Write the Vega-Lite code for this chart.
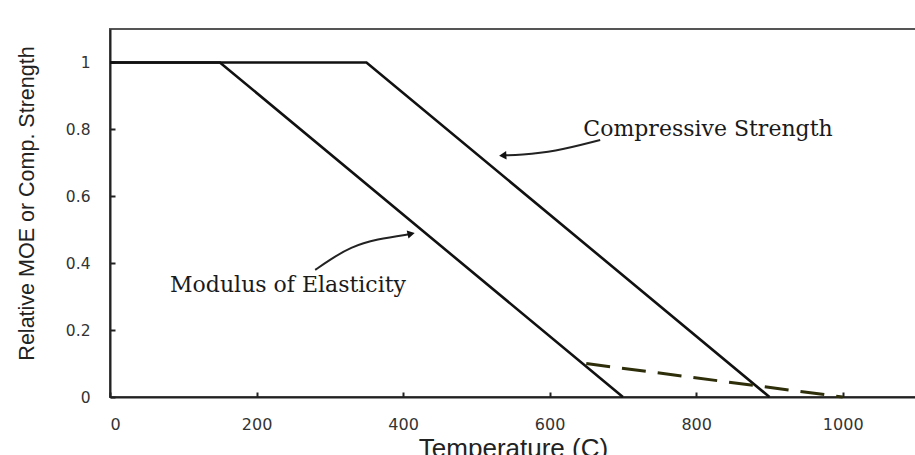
{
  "$schema": "https://vega.github.io/schema/vega-lite/v6.json",
  "width": 806,
  "height": 368,
  "autosize": {"type": "none"},
  "padding": {"left": 110, "top": 29, "right": 0, "bottom": 58},
  "background": "white",
  "config": {
    "view": {"stroke": "#555", "strokeWidth": 2},
    "axis": {"grid": false}
  },
  "datasets": {
    "curves": [
      {"series": "Modulus of Elasticity", "temp": 0, "rel": 1},
      {"series": "Modulus of Elasticity", "temp": 150, "rel": 1},
      {"series": "Modulus of Elasticity", "temp": 700, "rel": 0},
      {"series": "Compressive Strength", "temp": 0, "rel": 1},
      {"series": "Compressive Strength", "temp": 350, "rel": 1},
      {"series": "Compressive Strength", "temp": 900, "rel": 0}
    ],
    "tail": [
      {"temp": 650, "rel": 0.1},
      {"temp": 1000, "rel": 0}
    ],
    "arrows": [
      {"arrow": "cs", "order": 1, "temp": 669, "rel": 0.768},
      {"arrow": "cs", "order": 2, "temp": 605, "rel": 0.732},
      {"arrow": "cs", "order": 3, "temp": 560, "rel": 0.724},
      {"arrow": "cs", "order": 4, "temp": 536, "rel": 0.722},
      {"arrow": "moe", "order": 1, "temp": 280, "rel": 0.38},
      {"arrow": "moe", "order": 2, "temp": 300, "rel": 0.41},
      {"arrow": "moe", "order": 3, "temp": 328, "rel": 0.448},
      {"arrow": "moe", "order": 4, "temp": 364, "rel": 0.472},
      {"arrow": "moe", "order": 5, "temp": 410, "rel": 0.487}
    ],
    "heads": [
      {"arrow": "cs", "temp": 536, "rel": 0.722},
      {"arrow": "moe", "temp": 411, "rel": 0.488}
    ],
    "labels": [
      {"label": "Compressive Strength", "temp": 646, "rel": 0.78},
      {"label": "Modulus of Elasticity", "temp": 82, "rel": 0.314}
    ]
  },
  "encoding": {
    "x": {
      "field": "temp",
      "type": "quantitative",
      "scale": {"domain": [0, 1100], "nice": false, "zero": false},
      "axis": {
        "title": "Temperature (C)",
        "values": [0, 200, 400, 600, 800, 1000],
        "format": "d",
        "domainColor": "#222",
        "domainWidth": 2,
        "tickColor": "#222",
        "tickWidth": 2,
        "tickSize": -5,
        "labelPadding": 24,
        "labelFont": "DejaVu Sans",
        "labelFontSize": 16,
        "labelColor": "#333",
        "titleFont": "Liberation Sans",
        "titleFontSize": 26,
        "titleFontWeight": "normal",
        "titleColor": "#222",
        "titleBaseline": "alphabetic",
        "titleY": 59
      }
    },
    "y": {
      "field": "rel",
      "type": "quantitative",
      "scale": {"domain": [0, 1.1], "nice": false},
      "axis": {
        "title": "Relative MOE or Comp. Strength",
        "values": [0, 0.2, 0.4, 0.6, 0.8, 1],
        "format": "~g",
        "domainColor": "#222",
        "domainWidth": 2,
        "tickColor": "#222",
        "tickWidth": 2,
        "tickSize": -5,
        "labelPadding": 25,
        "labelFont": "DejaVu Sans",
        "labelFontSize": 15.5,
        "labelColor": "#333",
        "titleFont": "Liberation Sans",
        "titleFontSize": 21.5,
        "titleFontWeight": "normal",
        "titleColor": "#222",
        "titleX": -72,
        "titleY": 174
      }
    }
  },
  "layer": [
    {
      "data": {"name": "curves"},
      "mark": {"type": "line", "color": "#111", "strokeWidth": 2.6},
      "encoding": {"detail": {"field": "series"}}
    },
    {
      "data": {"name": "tail"},
      "mark": {"type": "line", "color": "#2e2e0a", "strokeWidth": 3, "strokeDash": [24, 12]},
      "encoding": {}
    },
    {
      "data": {"name": "arrows"},
      "mark": {"type": "line", "color": "#222", "strokeWidth": 2, "interpolate": "basis"},
      "encoding": {"detail": {"field": "arrow"}, "order": {"field": "order", "type": "quantitative"}}
    },
    {
      "data": {"name": "heads"},
      "transform": [{"filter": "datum.arrow == 'cs'"}],
      "mark": {"type": "point", "shape": "triangle-left", "filled": true, "color": "#111", "size": 70, "opacity": 1, "angle": 357}
    },
    {
      "data": {"name": "heads"},
      "transform": [{"filter": "datum.arrow == 'moe'"}],
      "mark": {"type": "point", "shape": "triangle-right", "filled": true, "color": "#111", "size": 70, "opacity": 1, "angle": 348}
    },
    {
      "data": {"name": "labels"},
      "mark": {"type": "text", "align": "left", "baseline": "alphabetic", "font": "DejaVu Serif", "fontSize": 22, "color": "#1a1a1a"},
      "encoding": {"text": {"field": "label"}}
    }
  ]
}
